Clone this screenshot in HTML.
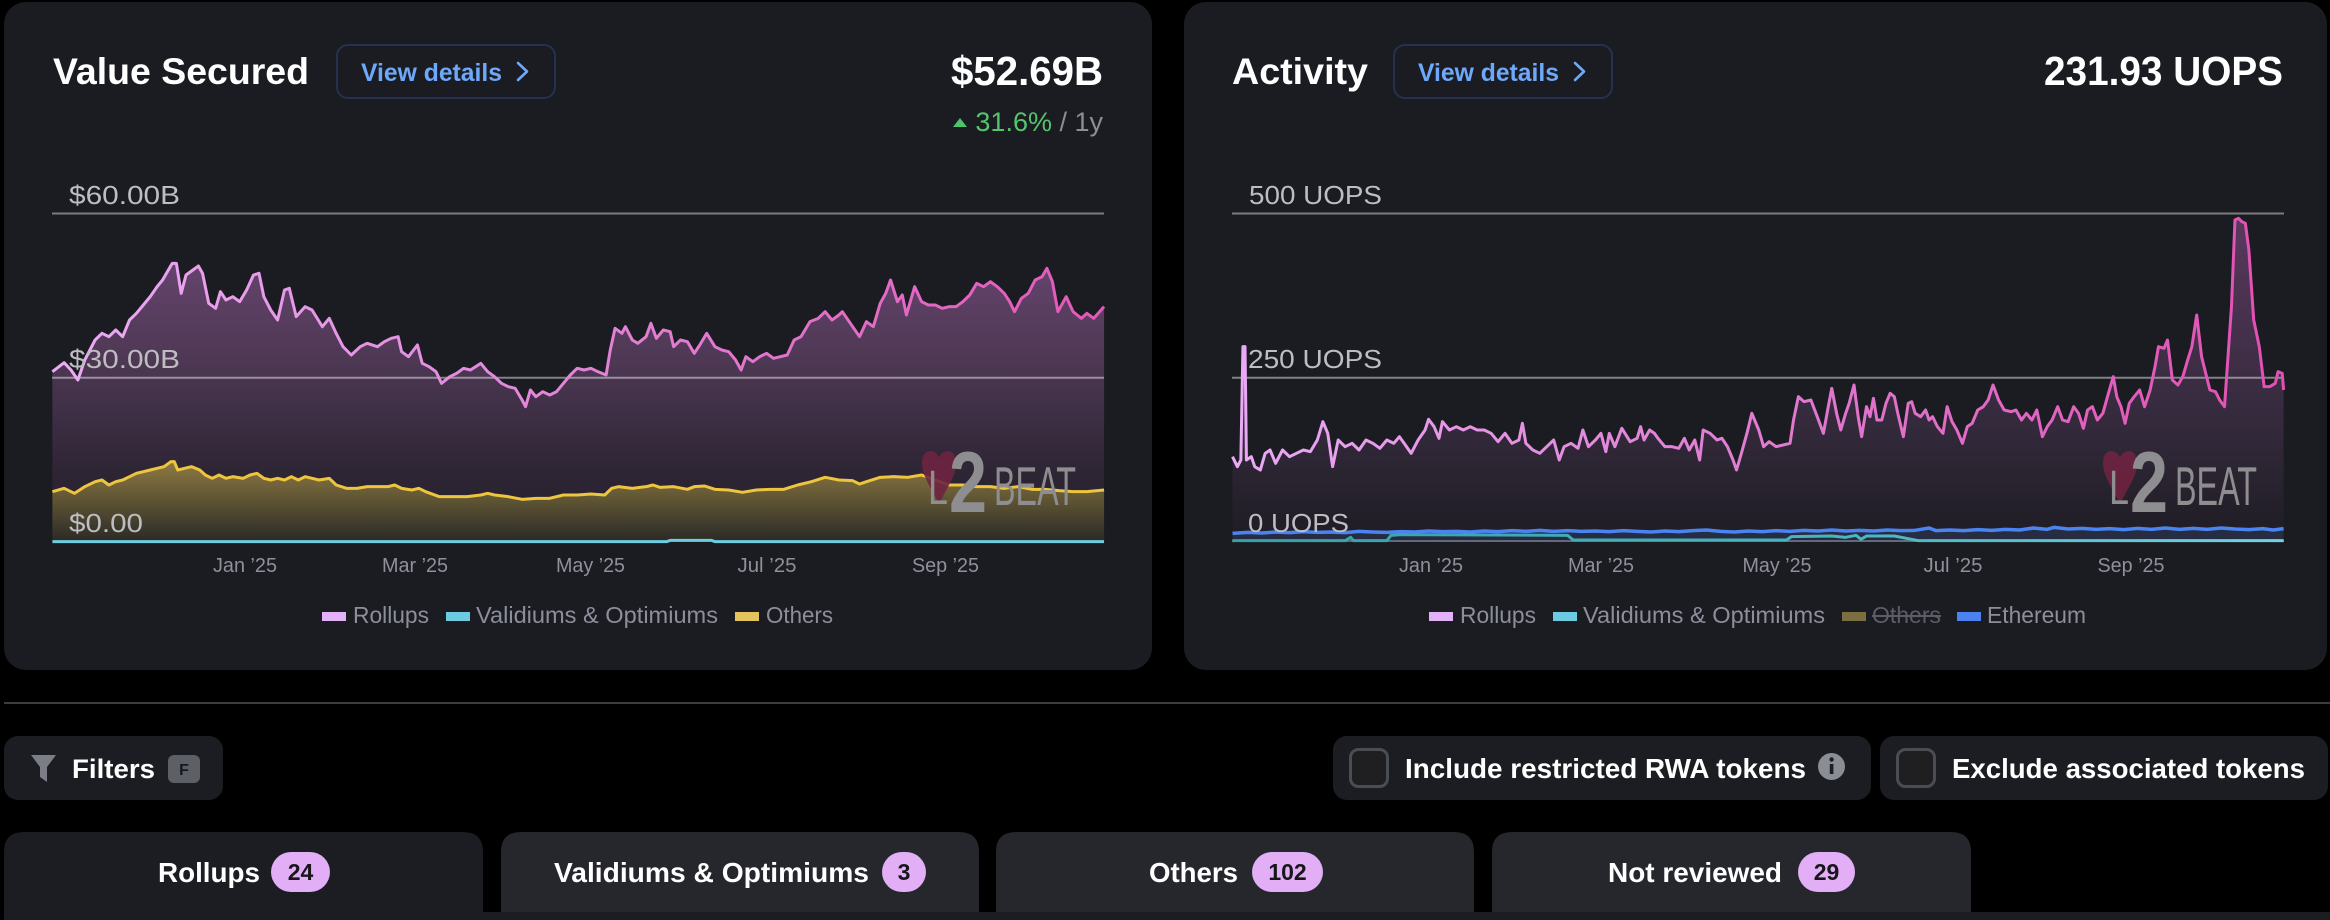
<!DOCTYPE html>
<html>
<head>
<meta charset="utf-8">
<style>
html,body{margin:0;padding:0;background:#000;}
svg{display:block;}
text{font-family:"Liberation Sans",Arial,sans-serif;}
</style>
</head>
<body>
<svg width="2330" height="920" viewBox="0 0 2330 920" xmlns="http://www.w3.org/2000/svg">
<defs>
  <linearGradient id="lFill" gradientUnits="userSpaceOnUse" x1="0" y1="0" x2="0" y2="903">
    <stop offset="0" stop-color="#6a4672"/>
    <stop offset="0.4" stop-color="#4e3854"/>
    <stop offset="0.75" stop-color="#2f2636"/>
    <stop offset="1" stop-color="#221e28"/>
  </linearGradient>
  <linearGradient id="yFill" gradientUnits="userSpaceOnUse" x1="0" y1="660" x2="0" y2="903">
    <stop offset="0" stop-color="#8f7a42"/>
    <stop offset="0.5" stop-color="#5e5434"/>
    <stop offset="1" stop-color="#2b2a26"/>
  </linearGradient>
  <linearGradient id="lStroke" gradientUnits="userSpaceOnUse" x1="18" y1="0" x2="1545" y2="0">
    <stop offset="0" stop-color="#ebacf6"/>
    <stop offset="0.5" stop-color="#e184d8"/>
    <stop offset="1" stop-color="#e458b8"/>
  </linearGradient>
  <linearGradient id="rFill" gradientUnits="userSpaceOnUse" x1="0" y1="0" x2="0" y2="1025">
    <stop offset="0" stop-color="#5c3b62"/>
    <stop offset="0.3" stop-color="#4a3250"/>
    <stop offset="0.65" stop-color="#342a3c"/>
    <stop offset="0.9" stop-color="#24202a"/>
    <stop offset="1" stop-color="#1f1c25"/>
  </linearGradient>
  <linearGradient id="rStroke" gradientUnits="userSpaceOnUse" x1="18" y1="0" x2="1530" y2="0">
    <stop offset="0" stop-color="#eaaaf6"/>
    <stop offset="0.5" stop-color="#e07cd2"/>
    <stop offset="1" stop-color="#e250b2"/>
  </linearGradient>
  <linearGradient id="tStroke" gradientUnits="userSpaceOnUse" x1="18" y1="0" x2="1530" y2="0">
    <stop offset="0" stop-color="#36a0a6"/>
    <stop offset="0.6" stop-color="#4ab6bf"/>
    <stop offset="1" stop-color="#72d2e4"/>
  </linearGradient>
</defs>

<!-- background -->
<rect x="0" y="0" width="2330" height="920" fill="#000"/>

<!-- ================= LEFT CARD ================= -->
<rect x="4" y="2" width="1148" height="668" rx="22" fill="#1b1c21"/>
<text x="53" y="84" font-size="37" font-weight="bold" fill="#ffffff" textLength="256" lengthAdjust="spacingAndGlyphs">Value Secured</text>
<rect x="337" y="45" width="218" height="53" rx="11" fill="none" stroke="#243150" stroke-width="2"/>
<text x="361" y="81" font-size="25" font-weight="bold" fill="#6ea8fa" textLength="141" lengthAdjust="spacingAndGlyphs">View details</text>
<polyline points="518,63 527,71.5 518,80" fill="none" stroke="#6ea8fa" stroke-width="2.6" stroke-linecap="round" stroke-linejoin="round"/>
<text x="1103" y="85" font-size="41" font-weight="bold" fill="#ffffff" text-anchor="end" textLength="152" lengthAdjust="spacingAndGlyphs">$52.69B</text>
<polygon points="953,127 967,127 960,118" fill="#4cc36a"/>
<text x="1103" y="131" font-size="27" text-anchor="end"><tspan fill="#55c46c">31.6%</tspan><tspan fill="#8b8d98"> / 1y</tspan></text>

<!-- left chart -->
<g transform="translate(40,240) scale(0.68871,0.333333)">
  <path fill="url(#lFill)" d="M18,903 L18,395 35,368 45,390 55,420 65,360 80,300 90,280 100,290 110,270 120,290 130,240 140,220 150,195 160,170 170,140 178,120 185,95 192,70 198,70 205,160 212,105 222,90 230,78 236,100 245,190 255,205 262,155 270,180 280,170 290,185 300,150 310,105 318,100 325,170 335,210 345,240 355,150 362,145 372,230 385,200 395,210 410,260 420,235 430,280 440,320 452,345 465,320 475,310 490,320 500,305 510,295 520,290 525,335 535,350 548,315 555,370 565,380 575,395 583,430 595,410 605,400 615,385 625,390 640,370 650,395 660,410 670,430 680,440 690,445 700,480 705,500 712,450 720,470 730,455 740,465 750,455 760,430 770,405 780,385 790,390 800,385 810,395 822,405 828,330 835,265 845,280 850,260 860,300 868,310 880,290 887,250 895,295 905,270 915,275 920,320 930,300 940,305 950,340 958,315 968,280 980,320 990,330 1000,335 1010,360 1018,390 1025,350 1035,365 1045,350 1055,340 1065,355 1075,350 1085,345 1095,300 1105,290 1118,245 1130,235 1140,215 1150,240 1160,225 1165,215 1175,245 1185,275 1190,290 1200,245 1210,260 1220,190 1228,160 1235,120 1245,185 1252,165 1258,225 1270,140 1280,185 1290,195 1300,195 1310,205 1320,200 1330,200 1340,185 1350,165 1360,130 1370,140 1380,125 1390,140 1400,160 1408,185 1415,215 1425,175 1435,160 1445,120 1455,110 1462,85 1470,125 1478,215 1490,170 1500,215 1512,235 1520,220 1530,235 1545,200 L1545,903 Z"/>
  <path fill="url(#yFill)" d="M18,903 L18,755 35,745 50,760 65,740 80,725 90,720 100,735 110,725 120,720 130,710 140,700 150,695 160,690 170,685 180,680 190,665 195,665 200,690 210,685 220,680 232,690 240,705 250,715 260,705 270,715 280,710 295,715 305,705 315,700 325,715 335,720 345,715 355,720 365,710 375,720 385,710 395,715 405,720 420,715 430,735 445,745 460,745 475,740 490,740 505,740 515,735 525,745 540,750 550,745 560,755 580,770 600,770 620,770 640,765 650,760 660,765 680,770 700,778 720,775 740,775 760,765 780,765 800,762 820,765 830,745 840,740 860,745 880,740 890,735 900,742 920,740 940,748 950,740 965,738 980,748 1000,750 1020,757 1040,750 1060,748 1080,748 1100,735 1120,725 1140,712 1160,720 1180,722 1190,732 1200,725 1220,712 1240,710 1260,712 1280,705 1300,720 1320,735 1340,735 1360,740 1380,740 1400,745 1420,740 1440,748 1460,748 1480,752 1500,755 1520,755 1545,750 L1545,903 Z"/>
</g>
<!-- gridlines left -->
<line x1="52" y1="213.5" x2="1104" y2="213.5" stroke="rgba(255,255,255,0.42)" stroke-width="2"/>
<line x1="52" y1="377.7" x2="1104" y2="377.7" stroke="rgba(255,255,255,0.45)" stroke-width="2"/>
<g transform="translate(40,240) scale(0.68871,0.333333)">
  <polyline fill="none" stroke="url(#lStroke)" stroke-width="3" stroke-linejoin="round" vector-effect="non-scaling-stroke" points="18,395 35,368 45,390 55,420 65,360 80,300 90,280 100,290 110,270 120,290 130,240 140,220 150,195 160,170 170,140 178,120 185,95 192,70 198,70 205,160 212,105 222,90 230,78 236,100 245,190 255,205 262,155 270,180 280,170 290,185 300,150 310,105 318,100 325,170 335,210 345,240 355,150 362,145 372,230 385,200 395,210 410,260 420,235 430,280 440,320 452,345 465,320 475,310 490,320 500,305 510,295 520,290 525,335 535,350 548,315 555,370 565,380 575,395 583,430 595,410 605,400 615,385 625,390 640,370 650,395 660,410 670,430 680,440 690,445 700,480 705,500 712,450 720,470 730,455 740,465 750,455 760,430 770,405 780,385 790,390 800,385 810,395 822,405 828,330 835,265 845,280 850,260 860,300 868,310 880,290 887,250 895,295 905,270 915,275 920,320 930,300 940,305 950,340 958,315 968,280 980,320 990,330 1000,335 1010,360 1018,390 1025,350 1035,365 1045,350 1055,340 1065,355 1075,350 1085,345 1095,300 1105,290 1118,245 1130,235 1140,215 1150,240 1160,225 1165,215 1175,245 1185,275 1190,290 1200,245 1210,260 1220,190 1228,160 1235,120 1245,185 1252,165 1258,225 1270,140 1280,185 1290,195 1300,195 1310,205 1320,200 1330,200 1340,185 1350,165 1360,130 1370,140 1380,125 1390,140 1400,160 1408,185 1415,215 1425,175 1435,160 1445,120 1455,110 1462,85 1470,125 1478,215 1490,170 1500,215 1512,235 1520,220 1530,235 1545,200"/>
  <polyline fill="none" stroke="#eec53e" stroke-width="3" stroke-linejoin="round" vector-effect="non-scaling-stroke" points="18,755 35,745 50,760 65,740 80,725 90,720 100,735 110,725 120,720 130,710 140,700 150,695 160,690 170,685 180,680 190,665 195,665 200,690 210,685 220,680 232,690 240,705 250,715 260,705 270,715 280,710 295,715 305,705 315,700 325,715 335,720 345,715 355,720 365,710 375,720 385,710 395,715 405,720 420,715 430,735 445,745 460,745 475,740 490,740 505,740 515,735 525,745 540,750 550,745 560,755 580,770 600,770 620,770 640,765 650,760 660,765 680,770 700,778 720,775 740,775 760,765 780,765 800,762 820,765 830,745 840,740 860,745 880,740 890,735 900,742 920,740 940,748 950,740 965,738 980,748 1000,750 1020,757 1040,750 1060,748 1080,748 1100,735 1120,725 1140,712 1160,720 1180,722 1190,732 1200,725 1220,712 1240,710 1260,712 1280,705 1300,720 1320,735 1340,735 1360,740 1380,740 1400,745 1420,740 1440,748 1460,748 1480,752 1500,755 1520,755 1545,750"/>
  <polyline fill="none" stroke="#6ccde0" stroke-width="3" vector-effect="non-scaling-stroke" points="18,905 910,905 915,901 975,901 980,905 1545,905"/>
</g>
<!-- left watermark -->
<g transform="translate(922,449)">
  <path d="M17,9 C15,0 0,-2 0,14 C0,29 11,40 17,56 C23,40 34,29 34,14 C34,-2 19,0 17,9 Z" fill="#6e2340" opacity="0.9"/>
  <text x="6" y="55" font-size="48" fill="#8e8e90" textLength="20" lengthAdjust="spacingAndGlyphs">L</text>
  <text x="27" y="63" font-size="86" font-weight="bold" fill="#8e8e90" textLength="38" lengthAdjust="spacingAndGlyphs">2</text>
  <text x="72" y="56" font-size="55" fill="#8e8e90" textLength="82" lengthAdjust="spacingAndGlyphs">BEAT</text>
</g>
<!-- y labels left -->
<text x="69" y="204" font-size="26" fill="#bdbdc2" textLength="111" lengthAdjust="spacingAndGlyphs">$60.00B</text>
<text x="69" y="368" font-size="26" fill="#bdbdc2" textLength="111" lengthAdjust="spacingAndGlyphs">$30.00B</text>
<text x="69" y="532" font-size="26" fill="#bdbdc2" textLength="74" lengthAdjust="spacingAndGlyphs">$0.00</text>
<!-- x labels left -->
<g font-size="20" fill="#8e909b" text-anchor="middle">
  <text x="245" y="572" textLength="64" lengthAdjust="spacingAndGlyphs">Jan ’25</text>
  <text x="415" y="572" textLength="66" lengthAdjust="spacingAndGlyphs">Mar ’25</text>
  <text x="590.5" y="572" textLength="69" lengthAdjust="spacingAndGlyphs">May ’25</text>
  <text x="767" y="572" textLength="59" lengthAdjust="spacingAndGlyphs">Jul ’25</text>
  <text x="945.5" y="572" textLength="67" lengthAdjust="spacingAndGlyphs">Sep ’25</text>
</g>
<!-- legend left -->
<rect x="322" y="612" width="24" height="9" fill="#e4b0f7"/>
<text x="353" y="623" font-size="23" fill="#8c8f9b" textLength="76" lengthAdjust="spacingAndGlyphs">Rollups</text>
<rect x="446" y="612" width="24" height="9" fill="#6ccbe0"/>
<text x="476" y="623" font-size="23" fill="#8c8f9b" textLength="242" lengthAdjust="spacingAndGlyphs">Validiums &amp; Optimiums</text>
<rect x="735" y="612" width="24" height="9" fill="#e3c35e"/>
<text x="766" y="623" font-size="23" fill="#8c8f9b" textLength="67" lengthAdjust="spacingAndGlyphs">Others</text>

<!-- ================= RIGHT CARD ================= -->
<rect x="1184" y="2" width="1143" height="668" rx="22" fill="#1b1c21"/>
<text x="1232" y="84" font-size="37" font-weight="bold" fill="#ffffff" textLength="136" lengthAdjust="spacingAndGlyphs">Activity</text>
<rect x="1394" y="45" width="218" height="53" rx="11" fill="none" stroke="#243150" stroke-width="2"/>
<text x="1418" y="81" font-size="25" font-weight="bold" fill="#6ea8fa" textLength="141" lengthAdjust="spacingAndGlyphs">View details</text>
<polyline points="1575,63 1584,71.5 1575,80" fill="none" stroke="#6ea8fa" stroke-width="2.6" stroke-linecap="round" stroke-linejoin="round"/>
<text x="2283" y="85" font-size="41" font-weight="bold" fill="#ffffff" text-anchor="end" textLength="239" lengthAdjust="spacingAndGlyphs">231.93 UOPS</text>

<!-- right chart -->
<g transform="translate(1220,200) scale(0.69517,0.333333)">
  <path fill="url(#rFill)" d="M18,1025 L18,770 25,800 30,780 33,440 36,440 38,780 45,770 50,800 58,810 65,760 72,750 80,790 90,750 100,770 110,760 120,750 130,755 140,720 148,665 155,700 162,800 170,720 180,740 190,730 200,750 210,720 220,730 230,745 240,720 250,730 258,710 265,730 275,760 285,720 295,690 300,658 308,680 315,715 320,665 330,690 340,680 350,690 360,680 370,690 380,690 390,700 400,725 410,700 420,730 430,720 435,670 440,730 450,750 460,760 470,740 480,720 488,780 495,740 505,730 515,745 522,690 530,740 540,720 548,700 555,755 560,700 568,740 578,685 590,725 600,715 605,680 610,720 618,690 625,700 630,715 640,740 650,740 660,745 668,715 675,750 683,720 690,780 695,690 705,700 715,720 722,715 730,740 738,780 743,810 750,760 758,700 765,640 775,690 782,740 790,725 800,740 810,735 820,730 825,660 832,590 840,605 850,600 860,655 868,700 875,620 880,565 887,640 893,690 900,640 905,610 912,555 918,650 923,710 930,620 935,650 940,595 945,660 952,660 958,610 964,580 970,590 975,640 983,710 990,610 995,605 1000,640 1008,650 1015,630 1020,660 1025,650 1032,680 1040,700 1046,620 1053,665 1060,690 1068,730 1075,680 1082,670 1090,630 1098,620 1105,600 1112,555 1120,600 1128,630 1138,635 1145,630 1153,660 1160,640 1168,660 1175,630 1183,710 1190,680 1197,660 1205,620 1212,660 1220,665 1228,620 1235,640 1242,685 1248,630 1255,620 1262,660 1270,640 1278,580 1285,530 1290,590 1296,620 1302,670 1308,610 1315,590 1323,570 1330,620 1338,570 1345,500 1350,440 1358,445 1363,420 1370,540 1378,555 1385,530 1392,480 1398,440 1405,345 1412,470 1418,520 1424,570 1432,575 1438,600 1445,620 1450,470 1455,320 1460,60 1465,55 1470,65 1475,70 1480,150 1487,360 1495,440 1502,560 1510,560 1518,550 1522,515 1528,520 1530,570 L1530,1025 Z"/>
</g>
<line x1="1232" y1="213.5" x2="2284" y2="213.5" stroke="rgba(255,255,255,0.42)" stroke-width="2"/>
<line x1="1232" y1="377.7" x2="2284" y2="377.7" stroke="rgba(255,255,255,0.45)" stroke-width="2"/>
<line x1="1232" y1="541" x2="2284" y2="541" stroke="rgba(255,255,255,0.35)" stroke-width="2"/>
<g transform="translate(1220,200) scale(0.69517,0.333333)">
  <polyline fill="none" stroke="url(#rStroke)" stroke-width="3" stroke-linejoin="round" vector-effect="non-scaling-stroke" points="18,770 25,800 30,780 33,440 36,440 38,780 45,770 50,800 58,810 65,760 72,750 80,790 90,750 100,770 110,760 120,750 130,755 140,720 148,665 155,700 162,800 170,720 180,740 190,730 200,750 210,720 220,730 230,745 240,720 250,730 258,710 265,730 275,760 285,720 295,690 300,658 308,680 315,715 320,665 330,690 340,680 350,690 360,680 370,690 380,690 390,700 400,725 410,700 420,730 430,720 435,670 440,730 450,750 460,760 470,740 480,720 488,780 495,740 505,730 515,745 522,690 530,740 540,720 548,700 555,755 560,700 568,740 578,685 590,725 600,715 605,680 610,720 618,690 625,700 630,715 640,740 650,740 660,745 668,715 675,750 683,720 690,780 695,690 705,700 715,720 722,715 730,740 738,780 743,810 750,760 758,700 765,640 775,690 782,740 790,725 800,740 810,735 820,730 825,660 832,590 840,605 850,600 860,655 868,700 875,620 880,565 887,640 893,690 900,640 905,610 912,555 918,650 923,710 930,620 935,650 940,595 945,660 952,660 958,610 964,580 970,590 975,640 983,710 990,610 995,605 1000,640 1008,650 1015,630 1020,660 1025,650 1032,680 1040,700 1046,620 1053,665 1060,690 1068,730 1075,680 1082,670 1090,630 1098,620 1105,600 1112,555 1120,600 1128,630 1138,635 1145,630 1153,660 1160,640 1168,660 1175,630 1183,710 1190,680 1197,660 1205,620 1212,660 1220,665 1228,620 1235,640 1242,685 1248,630 1255,620 1262,660 1270,640 1278,580 1285,530 1290,590 1296,620 1302,670 1308,610 1315,590 1323,570 1330,620 1338,570 1345,500 1350,440 1358,445 1363,420 1370,540 1378,555 1385,530 1392,480 1398,440 1405,345 1412,470 1418,520 1424,570 1432,575 1438,600 1445,620 1450,470 1455,320 1460,60 1465,55 1470,65 1475,70 1480,150 1487,360 1495,440 1502,560 1510,560 1518,550 1522,515 1528,520 1530,570"/>
  <path fill="rgba(60,100,170,0.22)" d="M18,1025 L18,1000 40,997 60,999 80,996 100,998 120,995 140,997 160,996 180,998 200,994 220,996 240,997 260,995 280,996 300,993 320,995 340,994 360,996 380,993 400,995 420,992 440,994 460,991 480,994 500,992 520,994 540,993 560,995 580,992 600,994 620,996 640,993 660,995 680,992 700,990 720,994 740,996 760,993 780,995 800,992 820,994 840,991 860,993 880,990 900,993 920,991 940,993 960,990 980,992 1000,991 1020,984 1030,992 1050,990 1070,992 1090,989 1110,991 1130,988 1150,990 1170,984 1190,988 1200,982 1220,987 1240,985 1260,988 1280,986 1300,989 1320,985 1340,988 1360,984 1380,988 1400,985 1420,988 1440,984 1460,987 1480,989 1500,986 1515,990 1530,986 L1530,1025 Z"/>
  <polyline fill="none" stroke="url(#tStroke)" stroke-width="3" stroke-linejoin="round" vector-effect="non-scaling-stroke" points="18,1022 180,1022 188,1012 192,1022 240,1022 246,1006 260,1004 500,1006 508,1020 815,1020 822,1010 880,1008 900,1012 915,1006 922,1018 930,1008 970,1008 990,1016 1005,1022 1530,1022"/>
  <polyline fill="none" stroke="#4a84f0" stroke-width="3.5" stroke-linejoin="round" vector-effect="non-scaling-stroke" points="18,1000 40,997 60,999 80,996 100,998 120,995 140,997 160,996 180,998 200,994 220,996 240,997 260,995 280,996 300,993 320,995 340,994 360,996 380,993 400,995 420,992 440,994 460,991 480,994 500,992 520,994 540,993 560,995 580,992 600,994 620,996 640,993 660,995 680,992 700,990 720,994 740,996 760,993 780,995 800,992 820,994 840,991 860,993 880,990 900,993 920,991 940,993 960,990 980,992 1000,991 1020,984 1030,992 1050,990 1070,992 1090,989 1110,991 1130,988 1150,990 1170,984 1190,988 1200,982 1220,987 1240,985 1260,988 1280,986 1300,989 1320,985 1340,988 1360,984 1380,988 1400,985 1420,988 1440,984 1460,987 1480,989 1500,986 1515,990 1530,986"/>
</g>
<!-- right watermark -->
<g transform="translate(2103,449)">
  <path d="M17,9 C15,0 0,-2 0,14 C0,29 11,40 17,56 C23,40 34,29 34,14 C34,-2 19,0 17,9 Z" fill="#6e2340" opacity="0.9"/>
  <text x="6" y="55" font-size="48" fill="#8e8e90" textLength="20" lengthAdjust="spacingAndGlyphs">L</text>
  <text x="27" y="63" font-size="86" font-weight="bold" fill="#8e8e90" textLength="38" lengthAdjust="spacingAndGlyphs">2</text>
  <text x="72" y="56" font-size="55" fill="#8e8e90" textLength="82" lengthAdjust="spacingAndGlyphs">BEAT</text>
</g>
<!-- y labels right -->
<text x="1249" y="204" font-size="26" fill="#bdbdc2" textLength="133" lengthAdjust="spacingAndGlyphs">500 UOPS</text>
<text x="1248" y="368" font-size="26" fill="#bdbdc2" textLength="134" lengthAdjust="spacingAndGlyphs">250 UOPS</text>
<text x="1248" y="532" font-size="26" fill="#bdbdc2" textLength="101" lengthAdjust="spacingAndGlyphs">0 UOPS</text>
<!-- x labels right -->
<g font-size="20" fill="#8e909b" text-anchor="middle">
  <text x="1431" y="572" textLength="64" lengthAdjust="spacingAndGlyphs">Jan ’25</text>
  <text x="1601" y="572" textLength="66" lengthAdjust="spacingAndGlyphs">Mar ’25</text>
  <text x="1777" y="572" textLength="69" lengthAdjust="spacingAndGlyphs">May ’25</text>
  <text x="1953" y="572" textLength="59" lengthAdjust="spacingAndGlyphs">Jul ’25</text>
  <text x="2131" y="572" textLength="67" lengthAdjust="spacingAndGlyphs">Sep ’25</text>
</g>
<!-- legend right -->
<rect x="1429" y="612" width="24" height="9" fill="#e4b0f7"/>
<text x="1460" y="623" font-size="23" fill="#8c8f9b" textLength="76" lengthAdjust="spacingAndGlyphs">Rollups</text>
<rect x="1553" y="612" width="24" height="9" fill="#6ccbe0"/>
<text x="1583" y="623" font-size="23" fill="#8c8f9b" textLength="242" lengthAdjust="spacingAndGlyphs">Validiums &amp; Optimiums</text>
<rect x="1842" y="612" width="24" height="9" fill="#7b6f42"/>
<text x="1872" y="623" font-size="23" fill="#5b5d66" textLength="69" lengthAdjust="spacingAndGlyphs">Others</text>
<line x1="1872" y1="616" x2="1941" y2="616" stroke="#5b5d66" stroke-width="2"/>
<rect x="1957" y="612" width="24" height="9" fill="#4b82f0"/>
<text x="1987" y="623" font-size="23" fill="#8c8f9b" textLength="99" lengthAdjust="spacingAndGlyphs">Ethereum</text>

<!-- ================= BOTTOM ================= -->
<rect x="4" y="702" width="2326" height="2" fill="#3b3c40"/>

<!-- Filters -->
<rect x="4" y="736" width="219" height="64" rx="14" fill="#1c1d22"/>
<path d="M31,755 H56 L47,767 V782 L40,777 V767 Z" fill="#7c7e87"/>
<text x="72" y="778" font-size="27" font-weight="bold" fill="#ffffff" textLength="83" lengthAdjust="spacingAndGlyphs">Filters</text>
<rect x="168" y="755" width="32" height="28" rx="6" fill="#5d5f67"/>
<text x="184" y="775" font-size="16" font-weight="bold" fill="#16171a" text-anchor="middle">F</text>

<!-- RWA toggle -->
<rect x="1333" y="736" width="538" height="64" rx="14" fill="#1c1d22"/>
<rect x="1350.5" y="749.5" width="37" height="37" rx="8" fill="#1f1f22" stroke="#4b4d55" stroke-width="3"/>
<text x="1405" y="778" font-size="27.5" font-weight="bold" fill="#ffffff" textLength="401" lengthAdjust="spacingAndGlyphs">Include restricted RWA tokens</text>
<circle cx="1831.5" cy="766.5" r="13.5" fill="#8b8d96"/>
<rect x="1829.8" y="764" width="3.6" height="10" fill="#1c1d22"/>
<circle cx="1831.6" cy="759.5" r="2.2" fill="#1c1d22"/>

<!-- Exclude toggle -->
<rect x="1880" y="736" width="448" height="64" rx="14" fill="#1c1d22"/>
<rect x="1897.5" y="749.5" width="37" height="37" rx="8" fill="#1f1f22" stroke="#4b4d55" stroke-width="3"/>
<text x="1952" y="778" font-size="27.5" font-weight="bold" fill="#ffffff" textLength="353" lengthAdjust="spacingAndGlyphs">Exclude associated tokens</text>

<!-- Tabs -->
<path d="M4,920 V852 Q4,832 24,832 H463 Q483,832 483,852 V920 Z" fill="#1c1d22"/>
<path d="M501,912 V852 Q501,832 521,832 H959 Q979,832 979,852 V912 Z" fill="#26272d"/>
<path d="M996,912 V852 Q996,832 1016,832 H1454 Q1474,832 1474,852 V912 Z" fill="#26272d"/>
<path d="M1492,912 V852 Q1492,832 1512,832 H1951 Q1971,832 1971,852 V912 Z" fill="#26272d"/>
<rect x="4" y="912" width="2326" height="8" fill="#1c1d22"/>

<text x="158" y="882" font-size="28" font-weight="bold" fill="#ffffff" textLength="102" lengthAdjust="spacingAndGlyphs">Rollups</text>
<rect x="271" y="852" width="59" height="40" rx="20" fill="#e2aef6"/>
<text x="300.5" y="880" font-size="23" font-weight="bold" fill="#17171b" text-anchor="middle">24</text>

<text x="554" y="882" font-size="28" font-weight="bold" fill="#ffffff" textLength="315" lengthAdjust="spacingAndGlyphs">Validiums &amp; Optimiums</text>
<rect x="882" y="852" width="44" height="40" rx="20" fill="#e2aef6"/>
<text x="904" y="880" font-size="23" font-weight="bold" fill="#17171b" text-anchor="middle">3</text>

<text x="1149" y="882" font-size="28" font-weight="bold" fill="#ffffff" textLength="89" lengthAdjust="spacingAndGlyphs">Others</text>
<rect x="1252" y="852" width="71" height="40" rx="20" fill="#e2aef6"/>
<text x="1287.5" y="880" font-size="23" font-weight="bold" fill="#17171b" text-anchor="middle">102</text>

<text x="1608" y="882" font-size="28" font-weight="bold" fill="#ffffff" textLength="174" lengthAdjust="spacingAndGlyphs">Not reviewed</text>
<rect x="1798" y="852" width="57" height="40" rx="20" fill="#e2aef6"/>
<text x="1826.5" y="880" font-size="23" font-weight="bold" fill="#17171b" text-anchor="middle">29</text>
</svg>
</body>
</html>
